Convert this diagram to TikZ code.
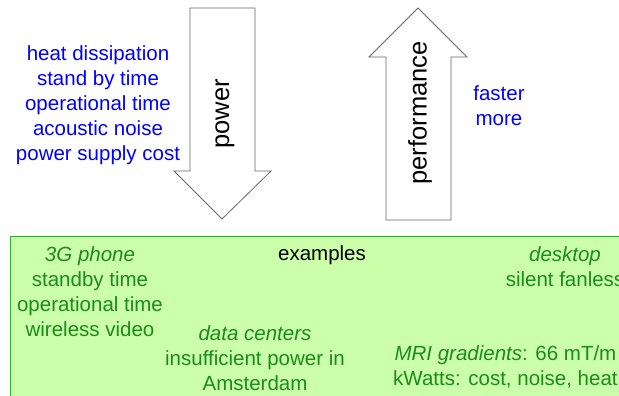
\documentclass[tikz,border=0pt]{standalone}
\usepackage{fontspec}
\setmainfont{Liberation Sans}
\definecolor{boxfill}{HTML}{CCFFAA}
\definecolor{boxline}{HTML}{33AA33}
\definecolor{exgreen}{HTML}{1A8C1A}
\begin{document}
\begin{tikzpicture}[x=1pt, y=-1pt,
  txt/.style={font=\fontsize{20.5}{25}\selectfont, align=center, inner sep=0pt},
  bigtxt/.style={font=\fontsize{25.5}{30}\selectfont, inner sep=0pt, rotate=90},
  bluetxt/.style={txt, text=blue},
  greentxt/.style={txt, text=exgreen},
  fatarrow/.style={draw=black!60, line width=0.8pt, fill=white}]
  \useasboundingbox (0,0) rectangle (619,396);
  \clip (0,0) rectangle (619,396);
  % power goes down
  \draw[fatarrow] (190,8) -- (255,8) -- (255,171) -- (271,171) -- (222,219) -- (174,171) -- (190,171) -- cycle;
  \node[bigtxt] (power) at (225,114) {power};
  % performance goes up
  \draw[fatarrow] (386,220) -- (386,57) -- (369,57) -- (418,8) -- (467,57) -- (451,57) -- (451,220) -- cycle;
  \node[bigtxt] (perf) at (420,113) {performance};
  \node[bluetxt] (costs) at (98,105) {heat dissipation\\stand by time\\operational time\\acoustic noise\\power supply cost};
  \node[bluetxt] (gains) at (499,106) {faster\\more};
  % examples box
  \fill[boxfill, draw=boxline, line width=0.8pt] (10,236) rectangle (650,420);
  \node[txt] (examples) at (322,255) {examples};
  \node[greentxt] (phone) at (90,292) {\textit{3G phone}\\standby time\\operational time\\wireless video};
  \node[greentxt] (desktop) at (565,267) {\textit{desktop}\\silent fanless};
  \node[greentxt] (datacenter) at (255,358) {\textit{data centers}\\insufficient power in\\Amsterdam};
  \node[greentxt, anchor=west] (mri) at (393,367) {\textit{MRI gradients}: 66 mT/m\\kWatts: cost, noise, heat};
\end{tikzpicture}
\end{document}
